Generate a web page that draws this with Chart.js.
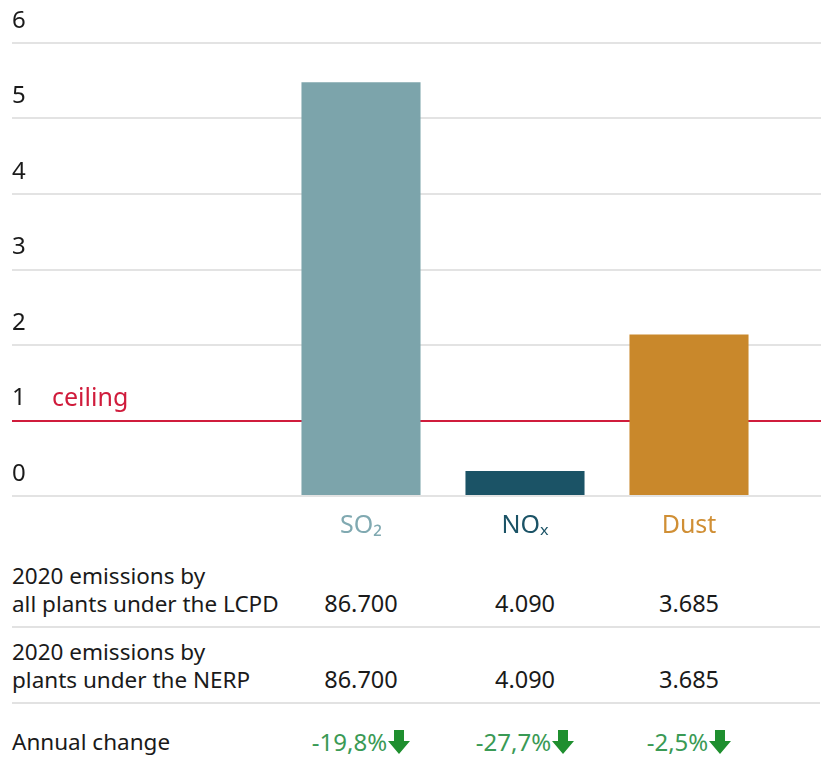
<!DOCTYPE html>
<html>
<head>
<meta charset="utf-8">
<script src="https://cdn.jsdelivr.net/npm/chart.js@4.4.1/dist/chart.umd.min.js"></script>
<style>
  body { margin: 0; background: #fff; font-family: "Noto Sans", sans-serif; color: #1a1a1a; }
  #wrap { position: relative; width: 821px; height: 776px; overflow: hidden; }
  #Chart { position: absolute; left: 0; top: 0; }
  .row { position: absolute; left: 12px; width: 808px; display: flex; align-items: flex-end; font-size: 22.5px; line-height: 27.5px; }
  .lab { width: 267px; white-space: nowrap; }
  .cell { width: 164px; text-align: center; white-space: nowrap; font-size: 23.5px; }
  .sep { position: absolute; left: 12px; width: 808px; height: 2px; background: #e2e2e2; }
  .chg { color: #3a9a55; font-size: 24px; }
  .chg svg { vertical-align: -3px; margin-left: 1px; }
</style>
</head>
<body>
<div id="wrap">
  <canvas id="Chart" width="821" height="560"></canvas>
  <div id="table"></div>
</div>
<script>
//----------data
var categories = ['SO₂', 'NOₓ', 'Dust'];
var emissions = [5.48, 0.33, 2.14];
var barColors = ['#7ca4ab', '#1b5366', '#c9882b'];
var labelColors = ['#80a9b1', '#1b5366', '#d08f35'];
var yTicks = [0, 1, 2, 3, 4, 5, 6];
var ceilingValue = 1;
var ceilingLabel = 'ceiling';

var rowLabels = [['2020 emissions by', 'all plants under the LCPD'], ['2020 emissions by', 'plants under the NERP'], ['Annual change']];
var lcpdValues = ['86.700', '4.090', '3.685'];
var nerpValues = ['86.700', '4.090', '3.685'];
var annualChange = ['-19,8%', '-27,7%', '-2,5%'];

var gridGrey = '#e3e3e3';
var ceilingRed = '#d01c3c';

Chart.defaults.font.family = '"Noto Sans", sans-serif';

// draws the "ceiling" text just above the red line
var ceilingPlugin = {
    id: 'ceilingLabel',
    afterDraw: function(chart) {
        var y = chart.scales.y;
        var c = chart.ctx;
        c.save();
        c.font = '25px "Noto Sans", sans-serif';
        c.fillStyle = ceilingRed;
        c.textBaseline = 'middle';
        c.textAlign = 'left';
        c.fillText(ceilingLabel, y.left + 40, y.getPixelForValue(ceilingValue) - 22);
        c.restore();
    }
};

function setTicks(scale) {
    scale.ticks = yTicks.map(function(v) { return { value: v }; });
}

function gridColor(c) {
    return (c.tick && c.tick.value === ceilingValue) ? ceilingRed : gridGrey;
}

//ploting graph using chart.js
var ctx = document.getElementById('Chart').getContext('2d');
var myChart = new Chart(ctx, {
    type: 'bar',
    data: {
        // empty first slot sits under the table's label column
        labels: [''].concat(categories),
        datasets: [{
            data: [null].concat(emissions),
            backgroundColor: ['transparent'].concat(barColors),
            categoryPercentage: 1,
            barPercentage: 0.726
        }]
    },
    options: {
        responsive: false,
        animation: false,
        layout: { padding: { left: 12, top: 43, right: 0, bottom: 0 } },
        plugins: { legend: { display: false }, tooltip: { enabled: false } },
        scales: {
            x: {
                grid: { display: false },
                border: { display: false },
                ticks: {
                    color: function(c) { return c.index === 0 ? '#1a1a1a' : labelColors[c.index - 1]; },
                    font: { size: 25 },
                    padding: 7,
                    maxRotation: 0
                },
                afterFit: function(s) { s.height = 64; }
            },
            y: {
                min: 0,
                max: 6,
                border: { display: false },
                grid: { color: gridColor, lineWidth: 2, tickLength: 103 },
                ticks: { crossAlign: 'far', labelOffset: -22, padding: 0, color: '#1a1a1a', font: { size: 24 } },
                afterBuildTicks: setTicks,
                afterFit: function(s) { s.width = 103; }
            },
            y2: {
                position: 'right',
                min: 0,
                max: 6,
                border: { display: false },
                grid: { drawOnChartArea: false, color: gridColor, lineWidth: 2, tickLength: 50 },
                ticks: { display: false },
                afterBuildTicks: setTicks
            }
        }
    },
    plugins: [ceilingPlugin]
});

//----------table under the chart
var arrowSvg = '<svg width="22" height="24" viewBox="0 0 22 24"><polygon points="6,0 16,0 16,11 22,11 11,24 0,11 6,11" fill="#1f8f2f"/></svg>';
var rowTops = [562, 638, 728];
var sepTops = [626, 702];
var rowValues = [lcpdValues, nerpValues, null];

var table = document.getElementById('table');
rowLabels.forEach(function(lines, i) {
    var html = '<div class="lab">' + lines.join('<br>') + '</div>';
    for (var k = 0; k < categories.length; k++) {
        if (rowValues[i]) {
            html += '<div class="cell">' + rowValues[i][k] + '</div>';
        } else {
            html += '<div class="cell chg">' + annualChange[k] + arrowSvg + '</div>';
        }
    }
    var row = document.createElement('div');
    row.className = 'row';
    row.style.top = rowTops[i] + 'px';
    row.innerHTML = html;
    table.appendChild(row);
});
sepTops.forEach(function(t) {
    var s = document.createElement('div');
    s.className = 'sep';
    s.style.top = t + 'px';
    table.appendChild(s);
});
</script>
</body>
</html>
